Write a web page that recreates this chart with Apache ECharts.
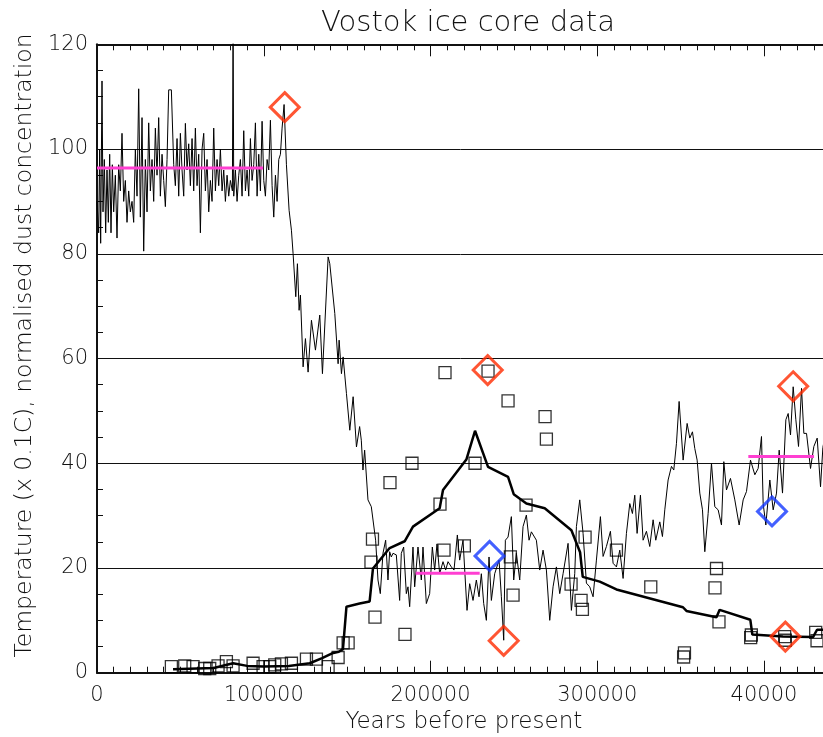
<!DOCTYPE html>
<html>
<head>
<meta charset="utf-8">
<script src="https://cdn.jsdelivr.net/npm/echarts@6/dist/echarts.min.js"></script>
<style>html,body{margin:0;padding:0;background:#fff}#c{width:823px;height:737px}</style>
</head>
<body>
<div id="c"></div>
<script>
// ---- data (years in thousands of years before present) ----
const xTickLabels = ['0', '100000', '200000', '300000', '40000'];
const yTickLabels = ['0', '20', '40', '60', '80', '100', '120'];

// thin jagged line
const thinYearsK = [0,1,1.6,2.2,3,3.6,4.4,5.2,6,6.8,7.6,8.4,9.2,10,11,12,13,14,15,16,17,18,19,20,21,22,23,24,25,26,27,28,29,30,31,32,33,34,35,36,37,38,39,40,41,42,43,44.6,46,47,48,49,50,51,52,53,54,55,56,57,58,59,60,61,62,63,64,65,66,67,68,69,70,71,72,73,74,75,76,77,78,79,80,81.2,81.6,82,83,84,85,86,87,88,89,90,91,92,93,94,95,96,97,98,99,100,101,102,103,104,105,106,107,108,109,110,111,112.2,113.6,115.2,116.6,117.6,119.2,120.2,121.2,122,123.6,125,126.6,128.6,131,133.6,135.2,138.6,139.6,142.6,144.6,145.2,146.6,147.6,149.6,151.6,153.6,155.6,157.5,158.5,159.5,160.5,162.5,164.5,165.5,167.1,168.5,169.9,171.5,173.1,174.5,175.5,176.5,177.5,179.5,181.5,182.5,183.9,185.5,186.5,187.5,189.5,190.5,192.5,194.5,195.5,197.5,199.5,201.1,202.5,203.9,205.5,207.5,209.1,210.5,212.5,214.1,216.1,217.5,219.5,221.9,223.5,225.5,227.5,229.1,230.5,231.9,233.5,235.1,236.5,238.5,241.1,242.5,243.9,244.9,246.5,248.5,249.9,251.5,253.5,255.5,257.5,259.1,260.5,263.5,265.5,267.5,269.5,271.5,273.5,275.5,277.5,279.5,282.5,284.5,286.5,287.5,289.5,291.5,293.5,295.5,297.5,299.5,301.9,303.5,305.5,307.9,309.5,311.5,313.5,315.5,317.5,319.5,321.1,322.5,323.9,325.9,327.5,329.5,331.5,333.5,335.1,337.5,339.1,340.5,342.5,344.5,345.9,347.5,349.1,351.5,353.9,355.5,357.1,358.5,359.9,361.5,363.1,364.5,366.5,368.5,370.5,372.5,374.5,375.9,377.5,379.9,382.5,385.1,387.5,389.5,391.9,394.5,396.5,398.5,399.5,401.1,403.5,405.5,407.5,409.1,411.1,413.1,414.5,415.9,417.5,419.1,420.7,422.5,423.9,425.5,427.9,429.9,431.9,433.9,435.3,436.5];
const thinValues = [90,84,100,82,113,88,98,84,96,86,99,84,97,88,95,83,97,92,103,90,94,86,92,88,90,86,100,91,111.5,87,106,80.5,98,88,105,92,98,90,104,95,106,91,99,94,89,98,111.3,111.3,97,93,102,91,103,96,91,104.9,96,101,93,102,92,104,93,99,84,100,103,92,98,88,94,90,104,92,98,93,100,92,96,90,95,91,94,92,125,91,96,90,95,98,91,103.5,92,96,91,102,94,97,105,91,99,92,105.3,94,91,98,96,105.5,93,87,95,90,98,99,104,108.5,97,88.3,84.5,80,71.8,78.1,69.2,72.1,58.4,63.8,57.4,67.3,61.6,68.3,57.1,79.4,78.1,68.6,59,63.5,57.1,60.3,53.3,46.3,52.7,43.1,47,44.4,38.7,42.5,33,31.7,32,25.3,17.7,15.1,22.8,25.3,17.7,23.1,22.1,22.8,22.5,13.8,22.8,24,15.1,16.4,12.6,24,16.4,24,17.7,24,13.2,15.1,24,19.6,24.6,18.9,21.2,19.6,21.2,20.2,19.6,26.3,21.5,25.3,11.9,17,13.8,17.7,14.5,18.9,13.2,10,22.1,13.8,18.9,21.5,14.5,6.2,25.3,25.9,29.8,17.7,22.8,17.7,27.9,30.1,25.3,26.9,25.3,19.6,23.4,19.6,10,16.4,20.2,15.1,18.9,24.7,11.9,18.9,27.9,33,26.6,17.1,16.4,14.5,21.5,29.8,22.2,24.1,27,20.9,20.2,23.4,18,26.6,32.3,30.4,33.9,26.6,33.9,25.3,27,24.1,29.2,25.3,28.8,26,31.1,36.8,39.4,38.7,43.8,51.8,40.6,47.6,44.8,46,42.8,40.6,34.3,31.1,23.1,30.4,40,31.7,31.1,28.2,40.3,34.9,37.1,33,28.2,33,34.6,40.6,37.8,39,45.1,32.3,28.2,36.8,31.1,34.3,42.5,34.3,48.3,49.5,45.4,54.6,48.3,43.2,54.3,45.7,45.7,39,43.2,44.8,35.5,43,45];

// thick smooth line
const thickYearsK = [45.6,60,70,81.6,90,100,115,127.6,135,141,145,147.5,149.6,157.5,163.5,164.5,165.5,175.5,184.5,189.5,205.5,207.5,221.5,226.7,234.5,246.5,249.9,257.5,268.5,284.5,289.7,291.3,301.5,311.5,351.4,353.5,371.5,373.4,391.8,393,411.4,429.4,431.8,440];
const thickValues = [0.65,0.8,0.9,1.8,1.3,1.2,1.3,1.8,2.8,3.7,4.0,4.5,12.6,13.2,13.6,13.7,19.9,23.8,25.1,27.9,31.4,34.9,40.7,46.2,39.3,37.4,34.1,32.3,31.4,27.2,23.0,18.3,17.4,15.9,12.5,11.8,10.6,12.0,10.1,7.3,6.9,6.8,8.2,8.2];

// open squares
const squareYearsK = [44.6,52.6,57.6,64.6,67.6,72.6,77.6,81.6,93.6,99.6,103.6,106.6,110.6,116.6,125.6,131.6,138.6,144.6,147.6,150.6,164.3,165.2,166.7,175.7,184.7,188.9,205.7,208.1,208.7,220.3,226.7,234.5,246.5,247.9,249.5,257.3,268.7,269.5,284.3,290.3,291.1,292.7,311.5,332.1,351.8,352.3,370.6,371.5,373.0,392.0,392.4,412.4,412.8,431.0,431.8];
const squareValues = [1.15,1.28,1.15,0.8,0.8,1.3,2.1,1.3,1.8,1.15,1.15,1.5,1.7,1.8,2.6,2.6,1.15,2.9,5.7,5.7,21.1,25.5,10.6,36.3,7.3,40.0,32.2,23.4,57.3,24.2,40.0,57.6,51.9,22.1,14.8,32.0,48.9,44.6,16.9,13.8,12.1,25.9,23.4,16.4,3.0,3.8,16.2,19.9,9.7,6.7,7.2,6.9,6.2,7.7,6.1];

// magenta mean segments
const meanStartK = [0, 191.1, 390.6];
const meanEndK = [99.6, 229.5, 430.0];
const meanValues = [96.4, 19.0, 41.3];

// diamonds
const redYearsK = [112.6, 234.3, 243.9, 412.8, 417.5];
const redValues = [108.0, 57.8, 6.1, 6.9, 54.7];
const blueYearsK = [235.4, 404.8];
const blueValues = [22.3, 30.8];

// ---- chart ----
const K = 1000;
const pairs = (xs, ys) => xs.map((x, i) => [x * K, ys[i]]);
const FONT = 'DejaVu Sans';
const INK = '#111';

const chart = echarts.init(document.getElementById('c'), null, {renderer: 'canvas'});

const meanSeries = meanValues.map((v, i) => ({
  type: 'line', data: [[meanStartK[i] * K, v], [meanEndK[i] * K, v]],
  showSymbol: false, lineStyle: {color: '#ff3fd2', width: 3}, z: 4, silent: true, animation: false
}));

const xLabel = v => (v % 100000 === 0 ? (xTickLabels[v / 100000] ?? '') : '');
const yLabel = v => (v % 20 === 0 ? (yTickLabels[v / 20] ?? '') : '');

const xCommon = {
  type: 'value', min: 0, max: 440000, interval: 100000,
  axisLine: {show: true, onZero: false, lineStyle: {color: INK, width: 2}},
  axisTick: {show: true, inside: true, length: 12, lineStyle: {color: INK, width: 1}},
  minorTick: {show: true, splitNumber: 10, length: 6, lineStyle: {color: INK, width: 1}},
  splitLine: {show: false}
};

const option = {
  animation: false,
  backgroundColor: '#fff',
  title: {
    text: 'Vostok ice core data', left: 463, top: 4, textAlign: 'center',
    textStyle: {fontFamily: FONT, fontWeight: 200, fontSize: 29, color: INK}
  },
  grid: {left: 97, top: 44.3, width: 733.7, height: 628.4, containLabel: false, outerBoundsMode: 'none'},
  xAxis: [
    Object.assign({}, xCommon, {
      position: 'bottom',
      name: 'Years before present', nameLocation: 'middle', nameGap: 38,
      nameTextStyle: {fontFamily: FONT, fontWeight: 200, fontSize: 23, color: INK},
      axisLabel: {
        margin: 12, fontFamily: FONT, fontWeight: 200, fontSize: 21, color: INK,
        showMaxLabel: false, formatter: xLabel
      }
    }),
    Object.assign({}, xCommon, {position: 'top', axisLabel: {show: false}})
  ],
  yAxis: {
    type: 'value', min: 0, max: 120, interval: 20,
    name: 'Temperature (x 0.1C), normalised dust concentration',
    nameLocation: 'middle', nameGap: 58, nameRotate: 90,
    nameTextStyle: {fontFamily: FONT, fontWeight: 200, fontSize: 23.5, color: INK, padding: [0, 0, 0, 26]},
    axisLine: {show: true, lineStyle: {color: INK, width: 2}},
    axisTick: {show: true, inside: true, length: 12, lineStyle: {color: INK, width: 1}},
    minorTick: {show: true, splitNumber: 4, length: 6, lineStyle: {color: INK, width: 1}},
    splitLine: {show: true, lineStyle: {color: '#111', width: 1}},
    axisLabel: {
      margin: 9, fontFamily: FONT, fontWeight: 200, fontSize: 21, color: INK,
      formatter: yLabel
    }
  },
  series: [
    {
      type: 'line', data: pairs(thinYearsK, thinValues), showSymbol: false,
      lineStyle: {color: '#000', width: 1}, z: 2, clip: true
    },
    {
      type: 'line', data: pairs(thickYearsK, thickValues), showSymbol: false,
      lineStyle: {color: '#000', width: 2.5}, z: 3, clip: true
    },
    {
      type: 'scatter', data: pairs(squareYearsK, squareValues), symbol: 'rect', symbolSize: 12,
      itemStyle: {color: 'rgba(0,0,0,0)', borderColor: '#000', borderWidth: 1.3}, z: 5
    },
    ...meanSeries,
    {
      type: 'scatter', data: pairs(redYearsK, redValues), symbol: 'diamond', symbolSize: [29, 29],
      itemStyle: {color: 'rgba(0,0,0,0)', borderColor: '#ff2b00', borderWidth: 3}, z: 6
    },
    {
      type: 'scatter', data: pairs(blueYearsK, blueValues), symbol: 'diamond', symbolSize: [29, 29],
      itemStyle: {color: 'rgba(0,0,0,0)', borderColor: '#1438ff', borderWidth: 3}, z: 6
    }
  ]
};
chart.setOption(option);
</script>
</body>
</html>
